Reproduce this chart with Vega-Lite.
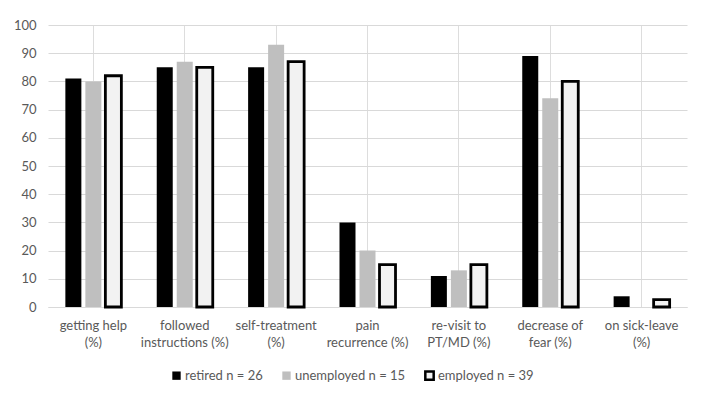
{
  "$schema": "https://vega.github.io/schema/vega-lite/v6.json",
  "width": 639,
  "height": 282,
  "autosize": {"type": "none"},
  "padding": {"left": 48, "top": 25, "right": 25, "bottom": 104},
  "background": "white",
  "data": {
    "values": [
      {"item": "getting help|(%)", "group": "retired n = 26", "value": 81},
      {"item": "getting help|(%)", "group": "unemployed n = 15", "value": 80},
      {"item": "getting help|(%)", "group": "employed n = 39", "value": 82},
      {"item": "followed|instructions (%)", "group": "retired n = 26", "value": 85},
      {"item": "followed|instructions (%)", "group": "unemployed n = 15", "value": 87},
      {"item": "followed|instructions (%)", "group": "employed n = 39", "value": 85},
      {"item": "self-treatment|(%)", "group": "retired n = 26", "value": 85},
      {"item": "self-treatment|(%)", "group": "unemployed n = 15", "value": 93},
      {"item": "self-treatment|(%)", "group": "employed n = 39", "value": 87},
      {"item": "pain|recurrence (%)", "group": "retired n = 26", "value": 30},
      {"item": "pain|recurrence (%)", "group": "unemployed n = 15", "value": 20},
      {"item": "pain|recurrence (%)", "group": "employed n = 39", "value": 15},
      {"item": "re-visit to|PT/MD (%)", "group": "retired n = 26", "value": 11},
      {"item": "re-visit to|PT/MD (%)", "group": "unemployed n = 15", "value": 13},
      {"item": "re-visit to|PT/MD (%)", "group": "employed n = 39", "value": 15},
      {"item": "decrease of|fear (%)", "group": "retired n = 26", "value": 89},
      {"item": "decrease of|fear (%)", "group": "unemployed n = 15", "value": 74},
      {"item": "decrease of|fear (%)", "group": "employed n = 39", "value": 80},
      {"item": "on sick-leave|(%)", "group": "retired n = 26", "value": 3.8},
      {"item": "on sick-leave|(%)", "group": "unemployed n = 15", "value": 0},
      {"item": "on sick-leave|(%)", "group": "employed n = 39", "value": 2.6}
    ]
  },
  "mark": {"type": "bar", "strokeWidth": 2.8},
  "encoding": {
    "x": {
      "field": "item",
      "type": "nominal",
      "sort": null,
      "scale": {"paddingInner": 0.387, "paddingOuter": 0.19},
      "axis": {
        "title": null,
        "labelAngle": 0,
        "labelExpr": "split(datum.value, '|')",
        "ticks": false,
        "domainColor": "#d9d9d9",
        "domainWidth": 1,
        "labelPadding": 18,
        "labelLineHeight": 17,
        "labelFont": "Lato",
        "labelFontSize": 13,
        "labelColor": "#595959",
        "labelBaseline": "middle"
      }
    },
    "xOffset": {
      "field": "group",
      "type": "nominal",
      "sort": ["retired n = 26", "unemployed n = 15", "employed n = 39"],
      "scale": {"paddingInner": 0.2, "paddingOuter": 0}
    },
    "y": {
      "field": "value",
      "type": "quantitative",
      "scale": {"domain": [0, 100], "nice": false},
      "axis": {
        "title": null,
        "values": [0, 10, 20, 30, 40, 50, 60, 70, 80, 90, 100],
        "domain": false,
        "ticks": false,
        "gridColor": "#d9d9d9",
        "labelPadding": 12,
        "labelFont": "Lato",
        "labelFontSize": 13,
        "labelColor": "#595959"
      }
    },
    "fill": {
      "field": "group",
      "type": "nominal",
      "scale": {
        "domain": ["retired n = 26", "unemployed n = 15", "employed n = 39"],
        "range": ["#000000", "#bfbfbf", "#f2f2f2"]
      },
      "legend": {
        "title": null,
        "orient": "none",
        "direction": "horizontal",
        "legendX": 122,
        "legendY": 344,
        "symbolType": "square",
        "symbolSize": 70,
        "symbolStrokeWidth": 2.5,
        "symbolOpacity": 1,
        "labelFont": "Lato",
        "labelFontSize": 13,
        "labelColor": "#595959",
        "labelOffset": 2,
        "columnPadding": 14
      }
    },
    "stroke": {
      "field": "group",
      "type": "nominal",
      "scale": {
        "domain": ["retired n = 26", "unemployed n = 15", "employed n = 39"],
        "range": ["transparent", "transparent", "#000000"]
      },
      "legend": null
    }
  },
  "config": {
    "view": {"stroke": null},
    "axis": {"grid": true}
  }
}
